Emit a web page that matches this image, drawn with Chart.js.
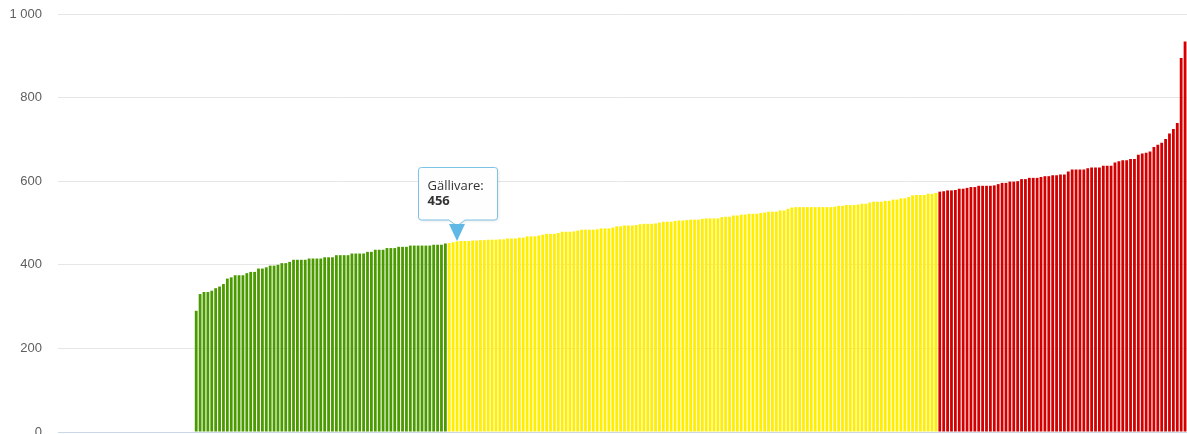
<!DOCTYPE html>
<html>
<head>
<meta charset="utf-8">
<script src="https://cdn.jsdelivr.net/npm/chart.js@4/dist/chart.umd.min.js"></script>
<style>
  html, body { margin: 0; padding: 0; background: #fff; }
  #wrap { width: 1187px; height: 434px; position: relative; }
</style>
</head>
<body>
<div id="wrap"><canvas id="chart"></canvas></div>
<script>
// kommuner utan värde (tomma kategorier till vänster)
var emptyCount = 35;

// lägsta kvartilen (grön)
var lowValues = [290,330,335,335,338,344,348,354,367,370,375,375,375,380,383,383,391,391,394,398,
  398,400,404,404,407,412,412,412,412,415,415,415,415,418,418,418,423,423,423,423,427,427,427,427,
  431,431,436,436,436,440,440,440,443,443,443,446,446,446,446,446,446,448,448,448,451];

// mitten (gul)
var midValues = [452,454,456,457,457,457,458,458,459,459,460,460,460,461,461,463,463,463,465,465,
  468,468,468,470,472,474,474,474,476,479,479,479,480,482,484,484,484,484,485,487,487,487,489,
  492,492,494,494,494,495,497,498,498,498,499,501,503,503,503,505,506,506,507,508,508,508,
  510,511,511,511,511,514,515,515,518,518,520,520,522,522,522,524,525,527,527,527,530,530,534,
  537,538,538,538,538,538,538,538,538,538,538,539,541,541,543,543,543,544,546,546,549,551,551,551,
  553,553,556,556,559,559,562,566,567,567,567,570,570,572];

// högsta kvartilen (röd)
var highValues = [575,576,578,578,579,582,582,584,586,586,589,589,589,589,590,593,596,596,599,599,
  600,605,605,608,608,608,610,612,612,614,614,616,616,623,628,628,628,628,631,633,633,633,637,637,
  637,645,648,650,650,653,653,663,666,668,671,682,687,692,701,714,725,739,895,934];

var yTicks = [0, 200, 400, 600, 800, 1000];

var highlightName = 'Gällivare';
var highlightIndex = emptyCount + lowValues.length + 2;

var lowColor = '#4a9a00';
var midColor = '#ffee00';
var highColor = '#d20000';

var values = [];
var colors = [];
for (var i = 0; i < emptyCount; i++) { values.push(null); colors.push(lowColor); }
lowValues.forEach(function (v) { values.push(v); colors.push(lowColor); });
midValues.forEach(function (v) { values.push(v); colors.push(midColor); });
highValues.forEach(function (v) { values.push(v); colors.push(highColor); });

var labels = values.map(function (v, i) { return i === highlightIndex ? highlightName : ''; });

function formatNumber(n) {
    return String(n).replace(/\B(?=(\d{3})+(?!\d))/g, ' ');
}

// fast tooltip som pekar på den markerade stapeln
var pinnedTip = {
    id: 'pinnedTip',
    afterDraw: function (chart) {
        var el = chart.getDatasetMeta(0).data[highlightIndex];
        if (!el) return;
        var ctx = chart.ctx;
        var x = Math.round(el.x), y = Math.round(el.y);
        var w = 79, h = 53;
        var left = x - 38.5, top = y - 74, bottom = top + h;
        ctx.save();
        ctx.shadowColor = 'rgba(0,0,0,0.12)';
        ctx.shadowBlur = 3;
        ctx.shadowOffsetX = 1;
        ctx.shadowOffsetY = 1;
        ctx.beginPath();
        var r = 3;
        ctx.moveTo(left + r, top + 0.5);
        ctx.lineTo(left + w - r, top + 0.5);
        ctx.quadraticCurveTo(left + w, top + 0.5, left + w, top + r);
        ctx.lineTo(left + w, bottom - r);
        ctx.quadraticCurveTo(left + w, bottom, left + w - r, bottom);
        ctx.lineTo(x + 8, bottom);
        ctx.lineTo(x, bottom + 6);
        ctx.lineTo(x - 8, bottom);
        ctx.lineTo(left + r, bottom);
        ctx.quadraticCurveTo(left, bottom, left, bottom - r);
        ctx.lineTo(left, top + r);
        ctx.quadraticCurveTo(left, top + 0.5, left + r, top + 0.5);
        ctx.closePath();
        ctx.fillStyle = 'rgba(255,255,255,0.95)';
        ctx.fill();
        ctx.shadowColor = 'transparent';
        ctx.strokeStyle = '#7cc4e6';
        ctx.lineWidth = 1;
        ctx.stroke();
        // pil
        ctx.beginPath();
        ctx.moveTo(x - 8, bottom + 4);
        ctx.lineTo(x + 8, bottom + 4);
        ctx.lineTo(x, y);
        ctx.closePath();
        ctx.fillStyle = '#5fb8e6';
        ctx.fill();
        // text
        ctx.fillStyle = '#333333';
        ctx.textBaseline = 'alphabetic';
        ctx.textAlign = 'left';
        ctx.font = '13px "Open Sans", "Liberation Sans", sans-serif';
        ctx.fillText(highlightName + ':', left + 9, top + 23);
        ctx.font = 'bold 13px "Open Sans", "Liberation Sans", sans-serif';
        ctx.fillText(formatNumber(values[highlightIndex]), left + 9, top + 38);
        ctx.restore();
    }
};

new Chart(document.getElementById('chart'), {
    type: 'bar',
    data: {
        labels: labels,
        datasets: [{
            data: values,
            backgroundColor: colors,
            borderWidth: 0,
            barPercentage: 0.72,
            categoryPercentage: 1
        }]
    },
    options: {
        responsive: true,
        maintainAspectRatio: false,
        animation: false,
        events: [],
        layout: { padding: { left: 10, top: 14, right: 0, bottom: 2 } },
        plugins: {
            legend: { display: false },
            tooltip: { enabled: false },
            title: { display: false }
        },
        scales: {
            x: {
                ticks: { display: false },
                grid: { display: false, drawTicks: false },
                border: { display: true, color: '#ccd6eb', width: 1 }
            },
            y: {
                min: 0,
                max: 1000,
                afterFit: function (scale) {
                    scale.paddingTop = 0;
                    scale.paddingBottom = 0;
                    scale.width = 48;
                },
                afterBuildTicks: function (scale) {
                    scale.ticks = yTicks.map(function (v) { return { value: v }; });
                },
                ticks: {
                    padding: 16,
                    color: '#606060',
                    font: { family: '"Liberation Sans", Arial, sans-serif', size: 13 },
                    callback: function (v) { return formatNumber(v); }
                },
                grid: { color: '#e6e6e6', drawTicks: false },
                border: { display: false }
            }
        }
    },
    plugins: [pinnedTip]
});
</script>
</body>
</html>
